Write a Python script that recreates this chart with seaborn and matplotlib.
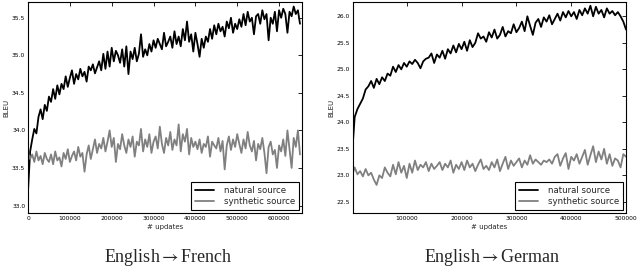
import numpy as np
import pandas as pd
import matplotlib
matplotlib.use("Agg")
import matplotlib.pyplot as plt
import seaborn as sns

# English->French: updates every 5000 steps
fr_updates = np.arange(0, 650001, 5000)
fr_natural = [
    33.20, 33.72, 33.88, 34.02, 33.96, 34.18, 34.28, 34.15, 34.34, 34.26, 34.45,
    34.38, 34.55, 34.42, 34.60, 34.48, 34.62, 34.55, 34.72, 34.58, 34.70,
    34.80, 34.62, 34.75, 34.68, 34.82, 34.72, 34.78, 34.65, 34.85, 34.80,
    34.88, 34.76, 34.84, 34.92, 34.80, 35.02, 34.82, 35.05, 34.85, 35.10,
    34.92, 35.06, 35.00, 34.90, 35.08, 34.85, 35.12, 34.75, 35.05, 34.95,
    35.10, 34.92, 35.02, 35.28, 34.98, 35.08, 35.00, 35.15, 35.05, 35.20,
    35.10, 35.22, 35.15, 35.08, 35.30, 35.12, 35.18, 35.25, 35.10, 35.32,
    35.15, 35.25, 35.12, 35.35, 35.20, 35.45, 35.18, 35.28, 35.05, 35.30,
    35.15, 34.98, 35.22, 35.10, 35.25, 35.18, 35.35, 35.22, 35.40, 35.28,
    35.42, 35.32, 35.38, 35.25, 35.45, 35.36, 35.50, 35.30, 35.42, 35.35,
    35.48, 35.38, 35.55, 35.40, 35.58, 35.45, 35.50, 35.28, 35.52, 35.55,
    35.42, 35.60, 35.48, 35.55, 35.20, 35.50, 35.42, 35.58, 35.32, 35.60,
    35.50, 35.62, 35.55, 35.30, 35.58, 35.52, 35.65, 35.55, 35.60, 35.42,
]
fr_synthetic = [
    33.70, 33.62, 33.68, 33.58, 33.72, 33.60, 33.66, 33.55, 33.70, 33.62, 33.58,
    33.68, 33.55, 33.72, 33.60, 33.64, 33.52, 33.70, 33.62, 33.75, 33.58,
    33.66, 33.72, 33.60, 33.78, 33.65, 33.70, 33.45, 33.68, 33.80, 33.62,
    33.75, 33.88, 33.70, 33.82, 33.76, 33.90, 33.72, 33.85, 34.00, 33.78,
    33.90, 33.58, 33.82, 33.75, 33.95, 33.80, 33.70, 33.88, 33.78, 33.92,
    33.65, 33.85, 33.80, 34.02, 33.72, 33.88, 33.78, 33.95, 33.70, 33.85,
    33.92, 33.76, 34.05, 33.82, 33.70, 33.90, 33.80, 33.98, 33.74, 33.88,
    33.80, 34.08, 33.72, 33.95, 33.85, 34.02, 33.68, 33.90, 33.78, 33.85,
    33.75, 33.88, 33.70, 33.82, 33.78, 33.92, 33.65, 33.85, 33.80, 33.76,
    33.90, 33.72, 33.86, 33.48, 33.80, 33.92, 33.74, 33.88, 33.78, 33.95,
    33.82, 33.70, 33.88, 33.76, 33.98, 33.80, 33.72, 33.86, 33.60, 33.82,
    33.75, 33.90, 33.70, 33.43, 33.78, 33.85, 33.68, 33.74, 33.50, 33.80,
    33.72, 33.88, 33.66, 34.00, 33.75, 33.50, 33.90, 33.78, 34.00, 33.68,
]

# English->German
de_updates = np.concatenate([[2000], np.arange(5000, 500001, 5000)])
de_natural = [
    23.65,
    24.10, 24.25, 24.35, 24.45, 24.62, 24.68, 24.78, 24.65, 24.82, 24.72,
    24.85, 24.78, 24.92, 24.88, 25.05, 24.95, 25.08, 25.00, 25.12, 25.05,
    25.15, 25.10, 25.18, 25.12, 25.02, 25.15, 25.20, 25.22, 25.30, 25.12,
    25.28, 25.22, 25.35, 25.20, 25.38, 25.30, 25.45, 25.32, 25.48, 25.38,
    25.52, 25.35, 25.55, 25.42, 25.50, 25.68, 25.58, 25.62, 25.52, 25.70,
    25.60, 25.75, 25.58, 25.65, 25.80, 25.62, 25.72, 25.68, 25.85, 25.70,
    25.78, 25.90, 25.72, 26.00, 25.82, 25.65, 25.88, 25.95, 25.80, 25.98,
    25.90, 26.02, 25.85, 25.95, 26.05, 25.92, 26.08, 25.98, 26.10, 26.00,
    26.08, 25.95, 26.12, 26.02, 26.15, 26.05, 26.20, 26.00, 26.18, 26.05,
    26.12, 25.98, 26.15, 26.05, 26.10, 26.02, 26.08, 26.00, 25.90, 25.75,
]
de_synthetic = [
    23.05,
    23.15, 23.02, 23.08, 22.98, 23.12, 23.00, 23.05, 22.92, 22.82, 23.00,
    22.95, 23.15, 23.05, 22.98, 23.20, 23.02, 23.25, 23.05, 23.18, 22.95,
    23.22, 23.05, 23.28, 23.10, 23.20, 23.15, 23.25, 23.08, 23.22, 23.12,
    23.18, 23.25, 23.10, 23.22, 23.15, 23.28, 23.05, 23.20, 23.12, 23.25,
    23.10, 23.28, 23.15, 23.22, 23.08, 23.20, 23.30, 23.12, 23.18, 23.10,
    23.25, 23.15, 23.30, 23.08, 23.22, 23.35, 23.12, 23.28, 23.18, 23.25,
    23.32, 23.15, 23.28, 23.20, 23.38, 23.22, 23.30, 23.25, 23.20, 23.28,
    23.25, 23.30, 23.22, 23.35, 23.40, 23.18, 23.32, 23.42, 23.12, 23.35,
    23.28, 23.40, 23.22, 23.35, 23.48, 23.20, 23.38, 23.55, 23.25, 23.45,
    23.30, 23.50, 23.22, 23.40, 23.18, 23.32, 23.28, 23.15, 23.40, 23.35,
]

series_names = ["natural source", "synthetic source"]
palette = {"natural source": "black", "synthetic source": "#808080"}


def make_frame(updates, natural, synthetic):
    a = pd.DataFrame({"updates": updates, "BLEU": natural, "source": series_names[0]})
    b = pd.DataFrame({"updates": updates, "BLEU": synthetic, "source": series_names[1]})
    return pd.concat([a, b], ignore_index=True)


sns.set_style("white")
plt.rcParams["mathtext.fontset"] = "stix"

fig = plt.figure(figsize=(6.4, 2.67), dpi=100)
ax1 = fig.add_axes([0.0438, 0.2022, 0.4282, 0.7903])
ax2 = fig.add_axes([0.5516, 0.2022, 0.4266, 0.7903])

panels = [
    (ax1, make_frame(fr_updates, fr_natural, fr_synthetic), (0, 655000), (32.9, 35.71),
     np.arange(0, 600001, 100000), np.arange(33.0, 35.51, 0.5), r"English$\rightarrow$French"),
    (ax2, make_frame(de_updates, de_natural, de_synthetic), (2000, 500000), (22.29, 26.27),
     np.arange(100000, 500001, 100000), np.arange(22.5, 26.01, 0.5), r"English$\rightarrow$German"),
]

for ax, df, xlim, ylim, xticks, yticks, title in panels:
    sns.lineplot(data=df, x="updates", y="BLEU", hue="source", hue_order=series_names,
                 palette=palette, linewidth=1.3, ax=ax, estimator=None)
    ax.set_xlim(*xlim)
    ax.set_ylim(*ylim)
    ax.set_xticks(xticks)
    ax.set_yticks(yticks)
    ax.set_yticklabels([f"{v:.1f}" for v in yticks])
    ax.set_xticklabels([str(int(v)) for v in xticks])
    ax.tick_params(direction="in", length=3, width=0.6, labelsize=4.3, pad=2,
                   top=True, right=True, colors="black")
    ax.set_xlabel("# updates", fontsize=5, labelpad=2)
    ax.set_ylabel("BLEU", fontsize=5, labelpad=2)
    for s in ax.spines.values():
        s.set_color("black")
        s.set_linewidth(0.8)
    leg = ax.legend(loc="lower right", fontsize=6.2, frameon=True, fancybox=False,
                    edgecolor="black", framealpha=1, borderaxespad=0.4,
                    handlelength=2.2, handletextpad=1.2, labelspacing=0.3)
    leg.get_frame().set_linewidth(0.8)
    pos = ax.get_position()
    fig.text((pos.x0 + pos.x1) / 2 + 0.005, 0.037, title, ha="center", va="center",
             fontsize=13, family="Liberation Serif")

fig.savefig("out.png", dpi=100)
